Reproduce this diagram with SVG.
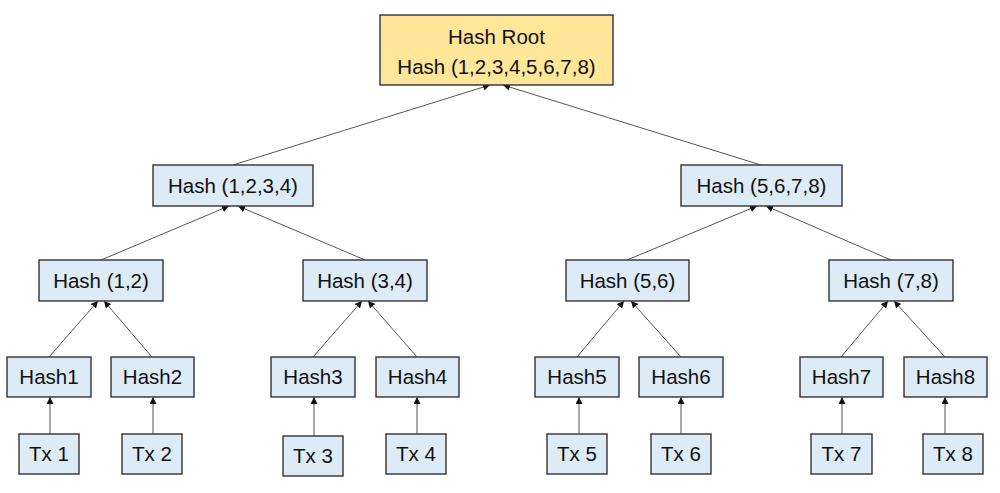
<svg xmlns="http://www.w3.org/2000/svg" width="1000" height="493" viewBox="0 0 1000 493">
<defs>
<marker id="arr" viewBox="0 0 10 10" refX="10" refY="5" markerWidth="7" markerHeight="7" markerUnits="userSpaceOnUse" orient="auto">
<path d="M0,0 L10,5 L0,10 z" fill="#111"/>
</marker>
<style>
.box{fill:#DDEBF7;stroke:#333;stroke-width:1.4}
.root{fill:#FFE699;stroke:#333;stroke-width:1.4}
text{font-family:"Liberation Sans",Arial,sans-serif;font-size:20.5px;fill:#111;text-anchor:middle}
.c line{stroke:#555;stroke-width:1;marker-end:url(#arr)}
</style>
</defs>
<rect width="1000" height="493" fill="#fff"/>
<g class="c" id="connectors">
<line x1="233" y1="165" x2="490" y2="85"/>
<line x1="761" y1="165" x2="503" y2="85"/>
<line x1="101" y1="260" x2="229" y2="206"/>
<line x1="365" y1="260" x2="238" y2="206"/>
<line x1="627" y1="260" x2="757" y2="206"/>
<line x1="891" y1="260" x2="766" y2="206"/>
<line x1="49" y1="357" x2="98" y2="301"/>
<line x1="152" y1="357" x2="104" y2="301"/>
<line x1="313" y1="357" x2="362" y2="301"/>
<line x1="417" y1="357" x2="368" y2="301"/>
<line x1="577" y1="357" x2="624" y2="301"/>
<line x1="681" y1="357" x2="631" y2="301"/>
<line x1="841" y1="357" x2="888" y2="301"/>
<line x1="945" y1="357" x2="894" y2="301"/>
<line x1="50" y1="434" x2="50" y2="397"/>
<line x1="153" y1="434" x2="153" y2="397"/>
<line x1="314" y1="436" x2="314" y2="397"/>
<line x1="417" y1="434" x2="417" y2="397"/>
<line x1="579" y1="434" x2="579" y2="397"/>
<line x1="681" y1="434" x2="681" y2="397"/>
<line x1="842" y1="434" x2="842" y2="397"/>
<line x1="945" y1="434" x2="945" y2="397"/>
</g>
<g id="root"><rect class="root" x="380" y="15" width="233" height="70"/><text x="496.5" y="44">Hash Root</text><text x="496.5" y="74">Hash (1,2,3,4,5,6,7,8)</text></g>
<g id="h1234"><rect class="box" x="153" y="165" width="160" height="41"/><text x="233" y="193">Hash (1,2,3,4)</text></g>
<g id="h5678"><rect class="box" x="681" y="165" width="161" height="41"/><text x="761.5" y="193">Hash (5,6,7,8)</text></g>
<g id="h12"><rect class="box" x="39" y="260" width="124" height="41"/><text x="101" y="288">Hash (1,2)</text></g>
<g id="h34"><rect class="box" x="303" y="260" width="124" height="41"/><text x="365" y="288">Hash (3,4)</text></g>
<g id="h56"><rect class="box" x="566" y="260" width="123" height="41"/><text x="627.5" y="288">Hash (5,6)</text></g>
<g id="h78"><rect class="box" x="829" y="260" width="124" height="41"/><text x="891" y="288">Hash (7,8)</text></g>
<g id="hash1"><rect class="box" x="7" y="357" width="84" height="40"/><text x="49" y="384">Hash1</text></g>
<g id="hash2"><rect class="box" x="111" y="357" width="83" height="40"/><text x="152.5" y="384">Hash2</text></g>
<g id="hash3"><rect class="box" x="271" y="357" width="84" height="40"/><text x="313" y="384">Hash3</text></g>
<g id="hash4"><rect class="box" x="376" y="357" width="83" height="40"/><text x="417.5" y="384">Hash4</text></g>
<g id="hash5"><rect class="box" x="535" y="357" width="84" height="40"/><text x="577" y="384">Hash5</text></g>
<g id="hash6"><rect class="box" x="639" y="357" width="84" height="40"/><text x="681" y="384">Hash6</text></g>
<g id="hash7"><rect class="box" x="800" y="357" width="83" height="40"/><text x="841.5" y="384">Hash7</text></g>
<g id="hash8"><rect class="box" x="904" y="357" width="83" height="40"/><text x="945.5" y="384">Hash8</text></g>
<g id="tx1"><rect class="box" x="19" y="434" width="60" height="40"/><text x="49" y="461">Tx 1</text></g>
<g id="tx2"><rect class="box" x="122" y="434" width="60" height="40"/><text x="152" y="461">Tx 2</text></g>
<g id="tx3"><rect class="box" x="283" y="436" width="60" height="40"/><text x="313" y="463">Tx 3</text></g>
<g id="tx4"><rect class="box" x="386" y="434" width="60" height="40"/><text x="416" y="461">Tx 4</text></g>
<g id="tx5"><rect class="box" x="547" y="434" width="60" height="40"/><text x="577" y="461">Tx 5</text></g>
<g id="tx6"><rect class="box" x="651" y="434" width="60" height="40"/><text x="681" y="461">Tx 6</text></g>
<g id="tx7"><rect class="box" x="811" y="434" width="61" height="40"/><text x="841.5" y="461">Tx 7</text></g>
<g id="tx8"><rect class="box" x="923" y="434" width="60" height="40"/><text x="953" y="461">Tx 8</text></g>
</svg>
